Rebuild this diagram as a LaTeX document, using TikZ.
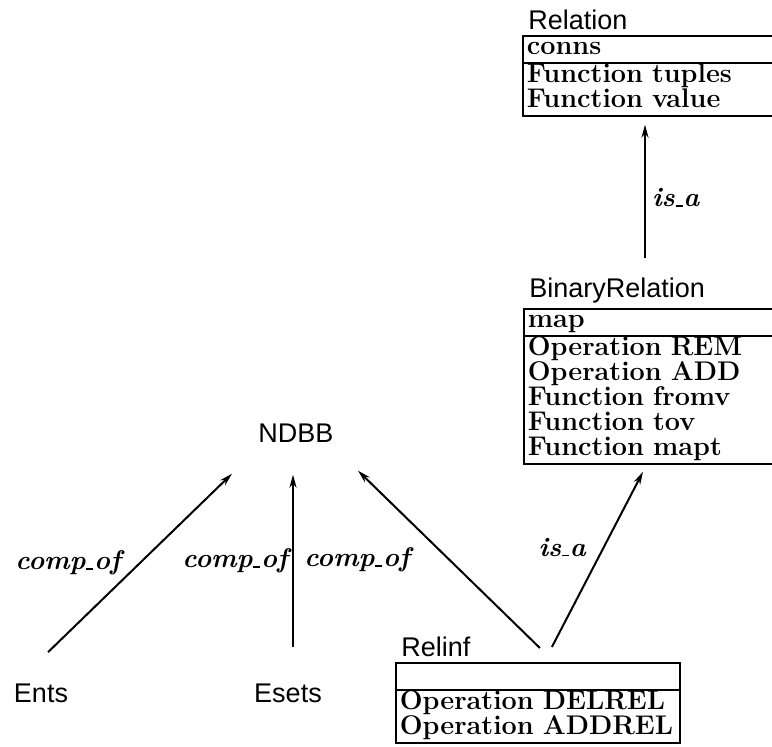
\documentclass[tikz,border=0pt]{standalone}
\usepackage{fontspec}
\newfontfamily\hdfont{Liberation Sans}
\usetikzlibrary{arrows.meta,positioning,shapes.multipart}
\newcommand{\usc}{\kern0.4pt\rule[-0.2pt]{3.5pt}{0.9pt}\kern0.4pt}
\newcommand{\rowfont}{\fontsize{13.5}{12.5}\selectfont\bfseries\lineskiplimit-20pt\relax}
\tikzset{
    cls/.style={rectangle split, rectangle split parts=2, draw, line width=0.9pt,
        inner xsep=2pt, inner ysep=0pt, text width=#1, align=left, anchor=north west,
        font=\rowfont},
    cls/.default=140pt,
    ctitle/.style={font=\hdfont\fontsize{13.5}{13.5}\selectfont, inner sep=1pt},
    obj/.style={font=\hdfont\fontsize{13.5}{13.5}\selectfont, inner sep=1pt},
    rel/.style={-{Stealth[length=6.5pt,width=3.5pt]}, line width=1pt},
    rlab/.style={font=\fontsize{13.5}{13.5}\selectfont\bfseries\itshape, inner sep=1pt}
}

\begin{document}
\begin{tikzpicture}[x=0.5pt,y=-0.5pt]
\useasboundingbox (0,0) rectangle (772,746);
\clip (0,0) rectangle (772,746);
% classes
\node[cls] (relation) at (522,35) {\strut conns\nodepart{second}\strut Function tuples\\\strut Function value};
\node[ctitle, above right=1.5pt and 2pt of relation.north west] (relationT) {Relation};
\node[cls] (binrel) at (523,308) {\strut map\nodepart{second}\strut Operation REM\\\strut Operation ADD\\\strut Function fromv\\\strut Function tov\\\strut Function mapt};
\node[ctitle, above right=1.5pt and 2pt of binrel.north west] (binrelT) {BinaryRelation};
\node[cls=138pt] (relinf) at (395,662) {\strut\nodepart{second}\strut Operation DELREL\\\strut Operation ADDREL};
\node[ctitle, above right=1.5pt and 2pt of relinf.north west] (relinfT) {Relinf};
% objects
\node[obj] (ndbb) at (296,433) {NDBB};
\node[obj] (ents) at (41,693) {Ents};
\node[obj] (esets) at (288,693) {Esets};
% links
\draw[rel] ([xshift=3.5pt,yshift=14.5pt]ents.north) -- ([xshift=-32pt,yshift=-14.5pt]ndbb.south)
    node[rlab, midway, left=8pt] {comp\usc of};
\draw[rel] ([xshift=2.5pt,yshift=17pt]esets.north) -- ([xshift=-1.5pt,yshift=-15pt]ndbb.south)
    node[rlab, midway, left=1pt] {comp\usc of};
\draw[rel] ([xshift=1pt,yshift=7pt]relinf.north) -- ([xshift=31pt,yshift=-13pt]ndbb.south)
    node[rlab, midway, left=18pt] {comp\usc of};
\draw[rel] ([xshift=7pt,yshift=7.5pt]relinf.north) -- ([xshift=60pt,yshift=-3.5pt]binrel.south west)
    node[rlab, pos=0.57, left=7.5pt] {is\usc a};
\draw[rel] ([xshift=61pt,yshift=25pt]binrel.north west) -- ([xshift=61.5pt,yshift=-4pt]relation.south west)
    node[rlab, pos=0.45, right=2pt] {is\usc a};
\end{tikzpicture}
\end{document}
